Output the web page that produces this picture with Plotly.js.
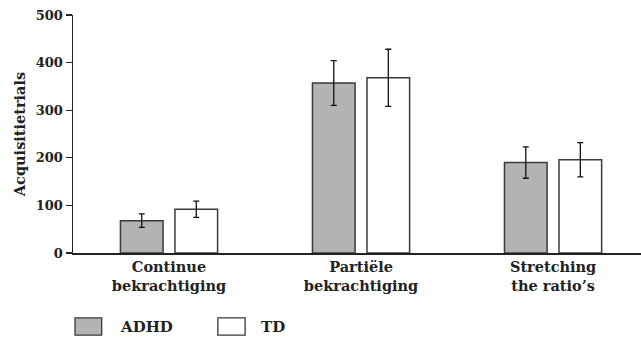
<!DOCTYPE html>
<html>
<head>
<meta charset="utf-8">
<script src="https://cdn.plot.ly/plotly-3.0.1.min.js"></script>
<style>html,body{margin:0;padding:0;background:#fff;}#chart{width:641px;height:339px;}</style>
</head>
<body>
<div id="chart"></div>
<script>
const categories = ["Continue<br>bekrachtiging", "Partiële<br>bekrachtiging", "Stretching<br>the ratio’s"];
const seriesNames = ["ADHD", "TD"];
const adhdValues = [68, 357, 190];
const adhdErrors = [14, 47, 33];
const tdValues = [92, 368, 196];
const tdErrors = [17, 60, 36];
const yTicks = [0, 100, 200, 300, 400, 500];

const font = "DejaVu Serif, Liberation Serif, serif";
const ink = "#222222";
const barW = 0.222;
const half = 0.253;

const traces = [
  {
    type: "bar", name: seriesNames[0], x: categories, y: adhdValues,
    width: barW, offset: -half,
    marker: {color: "#b3b3b3", line: {color: "#3a3a3a", width: 1.5}},
    error_y: {type: "data", array: adhdErrors, visible: true, color: "#111", thickness: 1.3, width: 3},
    showlegend: false
  },
  {
    type: "bar", name: seriesNames[1], x: categories, y: tdValues,
    width: barW, offset: half - barW,
    marker: {color: "#ffffff", line: {color: "#3a3a3a", width: 1.5}},
    error_y: {type: "data", array: tdErrors, visible: true, color: "#111", thickness: 1.3, width: 3},
    showlegend: false
  }
];

// custom legend (boxes + labels) in paper coords
const legendBoxes = [
  {x0: 0.0035, x1: 0.0505, fill: "#b3b3b3", tx: 0.08},
  {x0: 0.255, x1: 0.303, fill: "#ffffff", tx: 0.328}
];
const shapes = legendBoxes.map(b => ({
  type: "rect", xref: "paper", yref: "paper", x0: b.x0, x1: b.x1, y0: -0.345, y1: -0.273,
  fillcolor: b.fill, line: {color: "#3a3a3a", width: 1.3}
}));
const annotations = legendBoxes.map((b, i) => ({
  xref: "paper", yref: "paper", x: b.tx, y: -0.309, xanchor: "left", yanchor: "middle",
  text: "<b>" + seriesNames[i] + "</b>", showarrow: false,
  font: {family: font, size: 15, color: ink}
}));

const layout = {
  width: 641, height: 339,
  margin: {l: 73, r: 0, t: 15, b: 86},
  paper_bgcolor: "#fff", plot_bgcolor: "#fff",
  barmode: "group",
  showlegend: false,
  font: {family: font, color: ink},
  xaxis: {
    range: [-0.5, 2.458], showline: true, linecolor: "#222", linewidth: 1.5,
    ticks: "", showgrid: false, zeroline: false, fixedrange: true,
    tickfont: {family: font, size: 14.5, color: ink}
  },
  yaxis: {
    range: [0, 500], tickvals: yTicks, ticktext: yTicks.map(v => "<b>" + v + "</b>"),
    showline: true, linecolor: "#222", linewidth: 1.5,
    ticks: "outside", ticklen: 6, tickwidth: 1.3, tickcolor: "#222",
    showgrid: false, zeroline: false,
    tickfont: {family: font, size: 13, color: ink},
    title: {text: "<b>Acquisitietrials</b>", font: {family: font, size: 14.5, color: ink}, standoff: 6}
  },
  shapes: shapes,
  annotations: annotations
};

layout.xaxis.tickvals = categories;
layout.xaxis.ticktext = categories.map(c => "<b>" + c + "</b>");

Plotly.newPlot("chart", traces, layout, {displayModeBar: false, staticPlot: true});
</script>
</body>
</html>
